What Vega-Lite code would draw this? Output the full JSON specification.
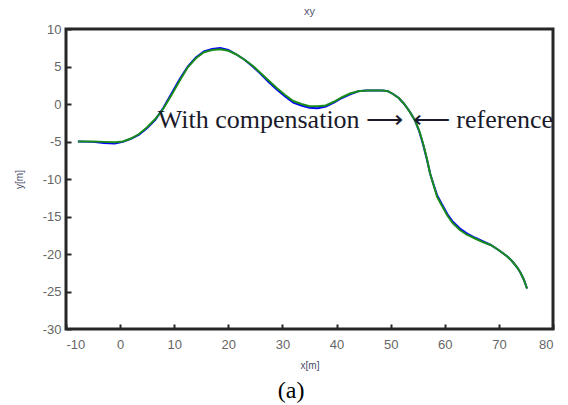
{
  "$schema": "https://vega.github.io/schema/vega-lite/v6.json",
  "autosize": {"type": "none"},
  "width": 487,
  "height": 300,
  "padding": {"left": 66, "top": 29, "right": 15, "bottom": 76},
  "background": "white",
  "title": {"text": "xy", "fontSize": 11, "font": "Arial", "fontWeight": "normal", "color": "#55556e", "offset": 6},
  "config": {
    "view": {"stroke": "#262626", "strokeWidth": 3},
    "axis": {"grid": false, "domain": false, "ticks": true, "tickColor": "#262626", "tickSize": 5, "tickWidth": 2, "offset": -5,
      "labelFont": "Arial", "labelFontSize": 13, "labelColor": "#666666",
      "labelExpr": "replace(datum.label, '−', '-')",
      "titleFont": "Arial", "titleFontSize": 10, "titleColor": "#4a4a6a", "titleFontWeight": "normal"}
  },
  "datasets": {
    "ref": [
      {"x": -7.8, "y": -5.0}, {"x": -5, "y": -5.0}, {"x": -3, "y": -5.05}, {"x": -1, "y": -5.1}, {"x": 0.5, "y": -5.0},
      {"x": 2, "y": -4.6}, {"x": 3.5, "y": -4.0}, {"x": 5, "y": -3.1}, {"x": 6.5, "y": -2.0}, {"x": 8, "y": -0.6},
      {"x": 9.5, "y": 1.2}, {"x": 11, "y": 3.1}, {"x": 12.5, "y": 4.9}, {"x": 14, "y": 6.1}, {"x": 15.5, "y": 6.9},
      {"x": 17, "y": 7.2}, {"x": 18.5, "y": 7.3}, {"x": 20, "y": 7.1}, {"x": 21.5, "y": 6.6}, {"x": 23, "y": 5.9},
      {"x": 24.5, "y": 5.1}, {"x": 26, "y": 4.1}, {"x": 27.5, "y": 3.1}, {"x": 29, "y": 2.1}, {"x": 30.5, "y": 1.2},
      {"x": 32, "y": 0.4}, {"x": 33.5, "y": 0.0}, {"x": 35, "y": -0.3}, {"x": 36.5, "y": -0.3}, {"x": 38, "y": -0.2},
      {"x": 39.5, "y": 0.3}, {"x": 41, "y": 0.9}, {"x": 42.5, "y": 1.4}, {"x": 44, "y": 1.7}, {"x": 45.5, "y": 1.8},
      {"x": 47, "y": 1.8}, {"x": 48.5, "y": 1.8}, {"x": 49.5, "y": 1.7}, {"x": 50.5, "y": 1.3}, {"x": 51.5, "y": 0.8},
      {"x": 52.5, "y": 0.0}, {"x": 53.5, "y": -1.0}, {"x": 54.5, "y": -2.2}, {"x": 55.3, "y": -3.6}, {"x": 56, "y": -5.3},
      {"x": 56.7, "y": -7.3}, {"x": 57.3, "y": -9.3}, {"x": 58, "y": -11.0}, {"x": 58.6, "y": -12.4}, {"x": 59.5, "y": -13.6},
      {"x": 60.5, "y": -14.9}, {"x": 61.5, "y": -15.9}, {"x": 62.8, "y": -16.8}, {"x": 64, "y": -17.4}, {"x": 65.5, "y": -17.9},
      {"x": 67, "y": -18.4}, {"x": 68.5, "y": -18.8}, {"x": 70, "y": -19.5}, {"x": 71.5, "y": -20.3}, {"x": 72.5, "y": -21.0},
      {"x": 73.4, "y": -21.8}, {"x": 74, "y": -22.5}, {"x": 74.6, "y": -23.4}, {"x": 75.2, "y": -24.6}
    ],
    "comp": [
      {"x": -7.8, "y": -5.0}, {"x": -5, "y": -5.05}, {"x": -3, "y": -5.2}, {"x": -1, "y": -5.25}, {"x": 0.5, "y": -5.05},
      {"x": 2, "y": -4.65}, {"x": 3.5, "y": -4.1}, {"x": 5, "y": -3.2}, {"x": 6.5, "y": -2.1}, {"x": 8, "y": -0.5},
      {"x": 9.5, "y": 1.4}, {"x": 11, "y": 3.3}, {"x": 12.5, "y": 5.0}, {"x": 14, "y": 6.2}, {"x": 15.5, "y": 7.0},
      {"x": 17, "y": 7.35}, {"x": 18.5, "y": 7.45}, {"x": 20, "y": 7.2}, {"x": 21.5, "y": 6.6}, {"x": 23, "y": 5.9},
      {"x": 24.5, "y": 5.0}, {"x": 26, "y": 4.0}, {"x": 27.5, "y": 2.9}, {"x": 29, "y": 1.9}, {"x": 30.5, "y": 1.0},
      {"x": 32, "y": 0.2}, {"x": 33.5, "y": -0.2}, {"x": 35, "y": -0.5}, {"x": 36.5, "y": -0.55}, {"x": 38, "y": -0.35},
      {"x": 39.5, "y": 0.2}, {"x": 41, "y": 0.8}, {"x": 42.5, "y": 1.3}, {"x": 44, "y": 1.7}, {"x": 45.5, "y": 1.8},
      {"x": 47, "y": 1.8}, {"x": 48.5, "y": 1.8}, {"x": 49.5, "y": 1.7}, {"x": 50.5, "y": 1.3}, {"x": 51.5, "y": 0.8},
      {"x": 52.5, "y": 0.0}, {"x": 53.5, "y": -1.0}, {"x": 54.5, "y": -2.2}, {"x": 55.3, "y": -3.7}, {"x": 56, "y": -5.4},
      {"x": 56.7, "y": -7.4}, {"x": 57.3, "y": -9.3}, {"x": 58, "y": -10.9}, {"x": 58.6, "y": -12.2}, {"x": 59.5, "y": -13.4},
      {"x": 60.5, "y": -14.7}, {"x": 61.5, "y": -15.7}, {"x": 62.8, "y": -16.6}, {"x": 64, "y": -17.2}, {"x": 65.5, "y": -17.8},
      {"x": 67, "y": -18.3}, {"x": 68.5, "y": -18.8}, {"x": 70, "y": -19.5}, {"x": 71.5, "y": -20.3}, {"x": 72.5, "y": -21.0},
      {"x": 73.4, "y": -21.8}, {"x": 74, "y": -22.5}, {"x": 74.6, "y": -23.4}, {"x": 75.2, "y": -24.6}
    ],
    "noteLeft": [{"x": 52.3, "y": -2.1, "label": "With compensation ⟶"}],
    "noteRight": [{"x": 54.1, "y": -2.1, "label": "⟵ reference"}],
    "caption": [{"x": 31.6, "y": -38.3, "label": "(a)"}]
  },
  "encoding": {
    "x": {"field": "x", "type": "quantitative", "scale": {"domain": [-10, 80], "nice": false, "zero": false},
      "axis": {"title": "x[m]", "values": [-10, 0, 10, 20, 30, 40, 50, 60, 70, 80], "labelPadding": 9, "titlePadding": 9}},
    "y": {"field": "y", "type": "quantitative", "scale": {"domain": [-30, 10], "nice": false, "zero": false},
      "axis": {"title": "y[m]", "values": [-30, -25, -20, -15, -10, -5, 0, 5, 10], "labelPadding": 5, "titlePadding": 18}}
  },
  "layer": [
    {
      "data": {"name": "comp"},
      "mark": {"type": "line", "color": "#0000ff", "strokeWidth": 2}
    },
    {
      "data": {"name": "ref"},
      "mark": {"type": "line", "color": "#1a8c1a", "strokeWidth": 2}
    },
    {
      "data": {"name": "noteLeft"},
      "mark": {"type": "text", "align": "right", "baseline": "middle", "font": "Liberation Serif", "fontSize": 26, "color": "#1a1a2a"},
      "encoding": {"text": {"field": "label"}}
    },
    {
      "data": {"name": "noteRight"},
      "mark": {"type": "text", "align": "left", "baseline": "middle", "font": "Liberation Serif", "fontSize": 26, "color": "#1a1a2a"},
      "encoding": {"text": {"field": "label"}}
    },
    {
      "data": {"name": "caption"},
      "mark": {"type": "text", "align": "center", "baseline": "middle", "font": "Liberation Serif", "fontSize": 24, "color": "#000000"},
      "encoding": {"text": {"field": "label"}}
    }
  ]
}
